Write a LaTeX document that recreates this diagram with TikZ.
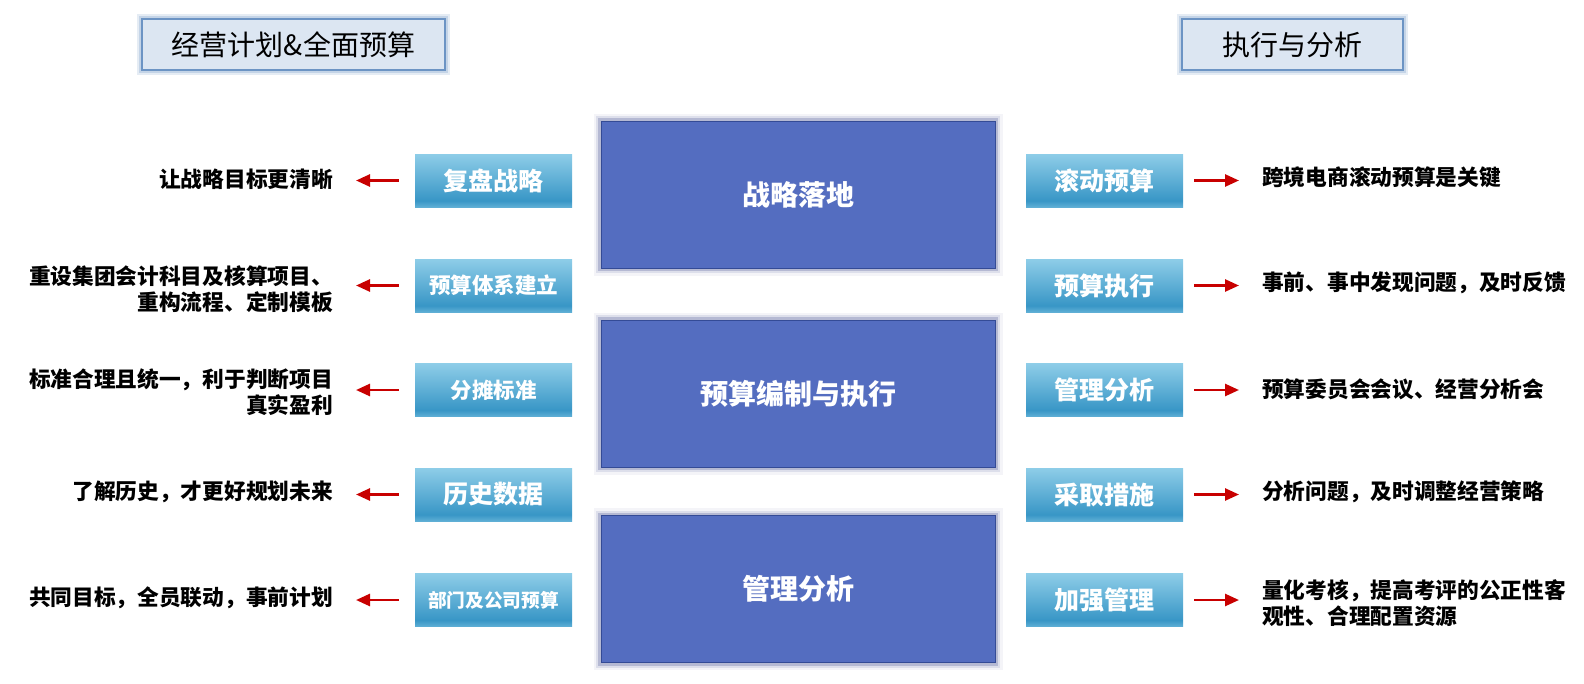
\documentclass[tikz,border=0pt]{standalone}
\usepackage{fontspec}
\setmainfont{Noto Sans CJK SC}
\usetikzlibrary{arrows.meta}
\definecolor{centerfill}{RGB}{84,109,192}
\definecolor{centerborder}{RGB}{52,75,150}
\definecolor{glowc}{RGB}{60,72,140}
\definecolor{gtop}{RGB}{142,205,232}
\definecolor{gbot}{RGB}{56,150,198}
\definecolor{titlefill}{RGB}{220,230,242}
\definecolor{titleborder}{RGB}{108,148,196}
\definecolor{arrowred}{RGB}{200,0,0}
\pgfdeclareverticalshading{gbox}{100bp}{color(0bp)=(gbot!55!gtop); color(25bp)=(gbot!55!gtop); color(31bp)=(gbot); color(55bp)=(gtop!55!gbot); color(75bp)=(gtop); color(100bp)=(gtop)}
\tikzset{
  titlebox/.style={draw=titleborder, line width=2pt, fill=titlefill, inner sep=0pt,
    minimum height=51pt, font=\fontsize{28}{30}\selectfont,
    preaction={draw=titleborder!35, line width=10pt, opacity=0.5},
    preaction={draw=titleborder!55, line width=6pt, opacity=0.6}},
  centerbox/.style={draw=centerborder, line width=1pt, fill=centerfill, inner sep=0pt,
    minimum width=394pt, minimum height=147pt, text=white,
    font=\bfseries\fontsize{28}{30}\selectfont,
    preaction={draw=glowc, line width=15pt, opacity=0.06},
    preaction={draw=glowc, line width=10pt, opacity=0.12},
    preaction={draw=glowc, line width=6pt, opacity=0.25}},
  gradbox/.style={shading=gbox, inner sep=0pt, minimum width=157pt, minimum height=53pt,
    text=white, font=\bfseries\fontsize{25}{27}\selectfont},
  desc/.style={inner sep=0pt, font=\bfseries\fontsize{21.7}{26}\selectfont},
  ldesc/.style={desc, anchor=east, align=right},
  rdesc/.style={desc, anchor=west, align=left},
  redarrow/.style={draw=arrowred, line width=2.6pt, -{Triangle[length=14pt,width=12pt]}},
}
\begin{document}
\begin{tikzpicture}[x=1pt,y=-1pt]
\useasboundingbox (0,0) rectangle (1584,683);
% titles
\node[titlebox, minimum width=303pt] (tl) at (293.5,44.5) {经营计划\&全面预算};
\node[titlebox, minimum width=221pt] (tr) at (1292.5,44.5) {执行与分析};
% center boxes
\node[centerbox] (c1) at (798,194.5) {战略落地};
\node[centerbox] (c2) at (798,393.5) {预算编制与执行};
\node[centerbox] (c3) at (798,589) {管理分析};
% left boxes
\node[gradbox] (l1) at (493.5,180.5) {复盘战略};
\node[gradbox, font=\bfseries\fontsize{21.5}{24}\selectfont] (l2) at (493.5,285.5) {预算体系建立};
\node[gradbox, font=\bfseries\fontsize{21.5}{24}\selectfont] (l3) at (493.5,390) {分摊标准};
\node[gradbox] (l4) at (493.5,494.5) {历史数据};
\node[gradbox, font=\bfseries\fontsize{18.7}{22}\selectfont] (l5) at (493.5,600) {部门及公司预算};
% right boxes
\node[gradbox] (r1) at (1104.5,180.5) {滚动预算};
\node[gradbox] (r2) at (1104.5,285.5) {预算执行};
\node[gradbox] (r3) at (1104.5,390) {管理分析};
\node[gradbox] (r4) at (1104.5,494.5) {采取措施};
\node[gradbox] (r5) at (1104.5,600) {加强管理};
% left descriptions
\node[ldesc] (u1) at (333,179) {让战略目标更清晰};
\node[ldesc] (u2) at (333,289) {重设集团会计科目及核算项目、\\重构流程、定制模板};
\node[ldesc] (u3) at (333,392) {标准合理且统一，利于判断项目\\真实盈利};
\node[ldesc] (u4) at (333,492) {了解历史，才更好规划未来};
\node[ldesc] (u5) at (333,598) {共同目标，全员联动，事前计划};
% right descriptions
\node[rdesc] (v1) at (1262,177) {跨境电商滚动预算是关键};
\node[rdesc] (v2) at (1262,283) {事前、事中发现问题，及时反馈};
\node[rdesc] (v3) at (1262,389) {预算委员会会议、经营分析会};
\node[rdesc] (v4) at (1262,492) {分析问题，及时调整经营策略};
\node[rdesc] (v5) at (1262,603) {量化考核，提高考评的公正性客\\观性、合理配置资源};
% arrows
\foreach \i in {1,...,5}{
  \draw[redarrow, shorten <=16pt, shorten >=23pt] (l\i.west) -- (l\i.west -| u\i.east);
  \draw[redarrow, shorten <=11pt, shorten >=23pt] (r\i.east) -- (r\i.east -| v\i.west);
}
\end{tikzpicture}
\end{document}
